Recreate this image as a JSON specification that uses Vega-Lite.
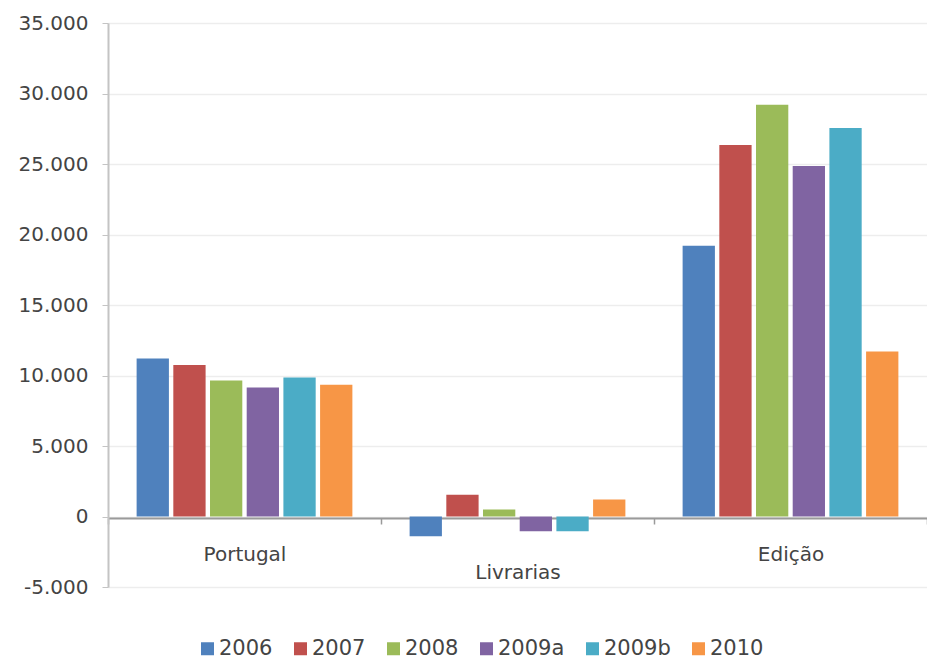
{
  "$schema": "https://vega.github.io/schema/vega-lite/v6.json",
  "width": 819,
  "height": 564,
  "autosize": "none",
  "padding": {"left": 108, "top": 23, "right": 0, "bottom": 72},
  "background": "white",
  "data": {
    "values": [
      {"cat": "Portugal", "year": "2006", "value": 11200},
      {"cat": "Portugal", "year": "2007", "value": 10750},
      {"cat": "Portugal", "year": "2008", "value": 9650},
      {"cat": "Portugal", "year": "2009a", "value": 9150},
      {"cat": "Portugal", "year": "2009b", "value": 9850},
      {"cat": "Portugal", "year": "2010", "value": 9350},
      {"cat": "Livrarias", "year": "2006", "value": -1400},
      {"cat": "Livrarias", "year": "2007", "value": 1550},
      {"cat": "Livrarias", "year": "2008", "value": 500},
      {"cat": "Livrarias", "year": "2009a", "value": -1050},
      {"cat": "Livrarias", "year": "2009b", "value": -1050},
      {"cat": "Livrarias", "year": "2010", "value": 1200},
      {"cat": "Edição", "year": "2006", "value": 19200},
      {"cat": "Edição", "year": "2007", "value": 26350},
      {"cat": "Edição", "year": "2008", "value": 29200},
      {"cat": "Edição", "year": "2009a", "value": 24850},
      {"cat": "Edição", "year": "2009b", "value": 27550},
      {"cat": "Edição", "year": "2010", "value": 11700}
    ]
  },
  "mark": {"type": "bar"},
  "encoding": {
    "x": {
      "field": "cat",
      "type": "nominal",
      "sort": ["Portugal", "Livrarias", "Edição"],
      "title": null,
      "scale": {"paddingInner": 0, "paddingOuter": 0},
      "axis": {
        "orient": "bottom",
        "offset": -69,
        "domainColor": "#9a9a9a",
        "domainWidth": 2,
        "ticks": true,
        "tickBand": "extent",
        "tickColor": "#9a9a9a",
        "tickSize": 6,
        "tickWidth": 1.5,
        "labelAngle": 0,
        "labelPadding": {"condition": {"test": "datum.value == 'Livrarias'", "value": 38}, "value": 20},
        "labelFontSize": 20,
        "labelFont": "DejaVu Sans",
        "labelColor": "#444444",
        "grid": false
      }
    },
    "xOffset": {
      "field": "year",
      "sort": ["2006", "2007", "2008", "2009a", "2009b", "2010"],
      "scale": {"paddingInner": 0.12, "paddingOuter": 0.78}
    },
    "y": {
      "field": "value",
      "type": "quantitative",
      "title": null,
      "scale": {"domain": [-5000, 35000], "nice": false, "zero": false},
      "axis": {
        "values": [-5000, 0, 5000, 10000, 15000, 20000, 25000, 30000, 35000],
        "labelExpr": "datum.value == 0 ? '0' : (datum.value < 0 ? '-' : '') + format(abs(datum.value) / 1000, 'd') + '.000'",
        "grid": true,
        "gridColor": "#ededed",
        "gridWidth": 1.5,
        "domainColor": "#c4c4c4",
        "domainWidth": 2,
        "tickColor": "#c4c4c4",
        "tickSize": 6,
        "labelPadding": 14,
        "labelFontSize": 20,
        "labelFont": "DejaVu Sans",
        "labelColor": "#444444"
      }
    },
    "color": {
      "field": "year",
      "type": "nominal",
      "scale": {
        "domain": ["2006", "2007", "2008", "2009a", "2009b", "2010"],
        "range": ["#4F81BD", "#C0504D", "#9BBB59", "#8064A2", "#4BACC6", "#F79646"]
      },
      "legend": {
        "orient": "none",
        "legendX": 89,
        "legendY": 615,
        "direction": "horizontal",
        "title": null,
        "symbolType": "square",
        "symbolSize": 169,
        "symbolStrokeWidth": 0,
        "labelFontSize": 21,
        "labelFont": "DejaVu Sans",
        "labelColor": "#444444",
        "labelOffset": 1,
        "columnPadding": 17
      }
    }
  },
  "config": {"view": {"stroke": null}}
}
